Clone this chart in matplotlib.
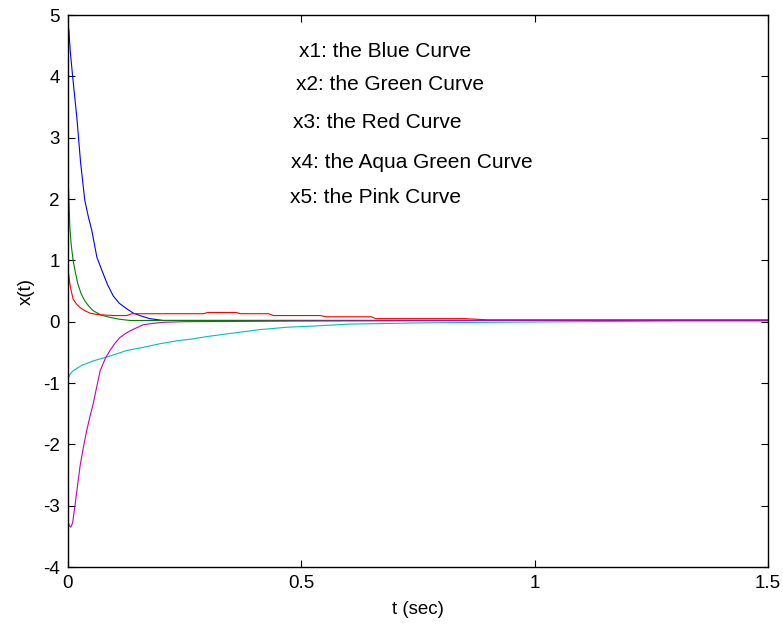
import numpy as np
import matplotlib
matplotlib.use("Agg")
import matplotlib.pyplot as plt

plt.rcParams["font.family"] = ["Liberation Sans", "DejaVu Sans"]
plt.rcParams["axes.unicode_minus"] = False

# values
t_x1 = [0, 0.002, 0.005, 0.010, 0.019, 0.027, 0.036, 0.044, 0.051, 0.062, 0.073, 0.085, 0.097, 0.11, 0.126, 0.14, 0.154, 0.175, 0.204, 0.25, 0.5, 0.9, 1.2, 1.5]
x1 = [4.85, 4.75, 4.4, 4.0, 3.33, 2.6, 1.98, 1.7, 1.49, 1.05, 0.83, 0.6, 0.42, 0.3, 0.21, 0.14, 0.1, 0.05, 0.02, 0.02, 0.02, 0.02, 0.02, 0.02]

t_x2 = [0, 0.002, 0.004, 0.007, 0.011, 0.016, 0.021, 0.028, 0.036, 0.045, 0.054, 0.07, 0.09, 0.11, 0.133, 0.2, 0.5, 0.9, 1.2, 1.5]
x2 = [2.4, 2.0, 1.54, 1.25, 1.0, 0.8, 0.62, 0.46, 0.34, 0.25, 0.18, 0.11, 0.07, 0.04, 0.02, 0.02, 0.02, 0.02, 0.02, 0.02]

t_x3 = [0, 0.002, 0.004, 0.007, 0.011, 0.018, 0.026, 0.036, 0.047, 0.06, 0.075, 0.1, 0.126, 0.137, 0.29, 0.3, 0.36, 0.37, 0.43, 0.44, 0.54, 0.555, 0.65, 0.66, 0.85, 0.9, 1.2, 1.5]
x3 = [0.85, 0.75, 0.62, 0.5, 0.37, 0.29, 0.23, 0.18, 0.14, 0.12, 0.11, 0.1, 0.1, 0.13, 0.13, 0.15, 0.15, 0.13, 0.13, 0.1, 0.1, 0.08, 0.08, 0.05, 0.05, 0.03, 0.03, 0.03]

t_x4 = [0, 0.004, 0.011, 0.03, 0.054, 0.09, 0.126, 0.16, 0.197, 0.235, 0.268, 0.3, 0.34, 0.38, 0.41, 0.426, 0.47, 0.53, 0.6, 0.68, 0.75, 0.9, 1.1, 1.3, 1.5]
x4 = [-0.95, -0.86, -0.8, -0.71, -0.64, -0.56, -0.47, -0.42, -0.36, -0.31, -0.28, -0.24, -0.2, -0.16, -0.13, -0.12, -0.09, -0.07, -0.04, -0.03, -0.02, -0.01, 0.0, 0.01, 0.01]

t_x5 = [0, 0.003, 0.006, 0.01, 0.015, 0.02, 0.026, 0.033, 0.04, 0.047, 0.054, 0.062, 0.069, 0.08, 0.09, 0.1, 0.111, 0.122, 0.133, 0.147, 0.161, 0.18, 0.204, 0.25, 0.5, 0.9, 1.2, 1.5]
x5 = [-3.25, -3.33, -3.35, -3.28, -3.0, -2.7, -2.35, -2.05, -1.78, -1.55, -1.34, -1.05, -0.8, -0.6, -0.47, -0.36, -0.26, -0.2, -0.15, -0.1, -0.05, -0.03, -0.01, 0.0, 0.01, 0.02, 0.02, 0.02]

labels = ["x1: the Blue Curve", "x2: the Green Curve", "x3: the Red Curve",
          "x4: the Aqua Green Curve", "x5: the Pink Curve"]
label_x = [0.495, 0.489, 0.482, 0.478, 0.475]
label_y = [4.4, 3.86, 3.25, 2.6, 2.03]

fig = plt.figure(figsize=(7.83, 6.28), dpi=100)
ax = fig.add_axes([0.0868, 0.0971, 0.894, 0.879])

ax.plot(t_x1, x1, color=(0, 0, 1), lw=0.8)
ax.plot(t_x2, x2, color=(0, 0.5, 0), lw=0.8)
ax.plot(t_x3, x3, color=(1, 0, 0), lw=0.8)
ax.plot(t_x4, x4, color=(0, 0.75, 0.75), lw=0.8)
ax.plot(t_x5, x5, color=(0.75, 0, 0.75), lw=0.8)

for s, lx, ly in zip(labels, label_x, label_y):
    ax.text(lx, ly, s, fontsize=15, va="center", ha="left")

ax.set_xlim(0, 1.5)
ax.set_ylim(-4, 5)
ax.set_xticks([0, 0.5, 1, 1.5])
ax.set_xticklabels(["0", "0.5", "1", "1.5"])
ax.set_yticks(range(-4, 6))
ax.tick_params(direction="in", top=True, right=True, labelsize=13.5, length=5, pad=6)
for sp in ax.spines.values():
    sp.set_linewidth(1.0)
ax.set_xlabel("t (sec)", fontsize=13.5, labelpad=6)
ax.set_ylabel("x(t)", fontsize=13.5, labelpad=6)

fig.savefig("out.png", dpi=100)
